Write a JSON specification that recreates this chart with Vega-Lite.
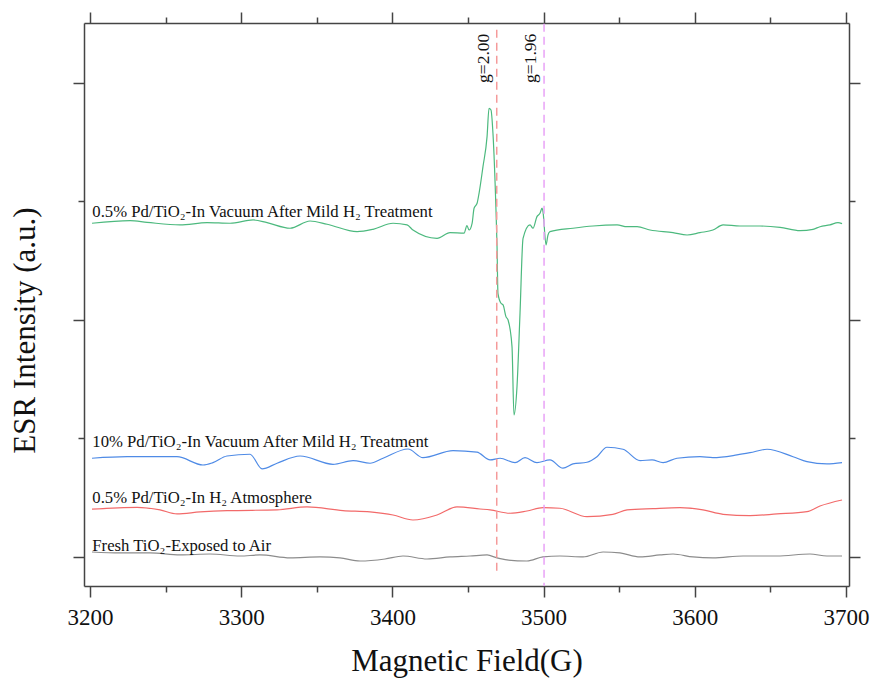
{
  "$schema": "https://vega.github.io/schema/vega-lite/v6.json",
  "autosize": "none",
  "width": 765,
  "height": 563,
  "padding": {"left": 84, "top": 23, "right": 23, "bottom": 93},
  "background": "white",
  "config": {
    "view": {"stroke": null},
    "font": "Liberation Serif",
    "axis": {
      "domainColor": "#444",
      "domainWidth": 1.5,
      "tickColor": "#444",
      "tickWidth": 1.5,
      "grid": false,
      "labelFont": "Liberation Serif",
      "titleFont": "Liberation Serif",
      "labelColor": "#111",
      "titleColor": "#111",
      "titleFontWeight": "normal"
    }
  },
  "datasets": {
    "spectra": [
      {"series": "fresh", "field": 3201.3, "esr": 0.042},
      {"series": "fresh", "field": 3219.8, "esr": 0.034},
      {"series": "fresh", "field": 3239.7, "esr": 0.034},
      {"series": "fresh", "field": 3259.5, "esr": 0.017},
      {"series": "fresh", "field": 3279.4, "esr": 0.025},
      {"series": "fresh", "field": 3299.2, "esr": 0.008},
      {"series": "fresh", "field": 3312.4, "esr": 0.017},
      {"series": "fresh", "field": 3332.3, "esr": -0.008},
      {"series": "fresh", "field": 3352.1, "esr": 0.0},
      {"series": "fresh", "field": 3365.3, "esr": -0.008},
      {"series": "fresh", "field": 3378.6, "esr": -0.034},
      {"series": "fresh", "field": 3395.1, "esr": -0.017},
      {"series": "fresh", "field": 3407.0, "esr": 0.008},
      {"series": "fresh", "field": 3422.9, "esr": -0.017},
      {"series": "fresh", "field": 3438.1, "esr": 0.0},
      {"series": "fresh", "field": 3451.3, "esr": 0.008},
      {"series": "fresh", "field": 3462.6, "esr": 0.017},
      {"series": "fresh", "field": 3469.2, "esr": -0.008},
      {"series": "fresh", "field": 3475.8, "esr": -0.025},
      {"series": "fresh", "field": 3489.0, "esr": -0.034},
      {"series": "fresh", "field": 3499.6, "esr": 0.0},
      {"series": "fresh", "field": 3510.8, "esr": 0.008},
      {"series": "fresh", "field": 3526.1, "esr": 0.0},
      {"series": "fresh", "field": 3539.3, "esr": 0.042},
      {"series": "fresh", "field": 3550.5, "esr": 0.034},
      {"series": "fresh", "field": 3563.8, "esr": 0.0},
      {"series": "fresh", "field": 3577.0, "esr": 0.017},
      {"series": "fresh", "field": 3585.6, "esr": 0.025},
      {"series": "fresh", "field": 3598.8, "esr": 0.0},
      {"series": "fresh", "field": 3612.0, "esr": -0.008},
      {"series": "fresh", "field": 3631.9, "esr": 0.008},
      {"series": "fresh", "field": 3654.4, "esr": 0.008},
      {"series": "fresh", "field": 3676.2, "esr": 0.025},
      {"series": "fresh", "field": 3687.4, "esr": 0.008},
      {"series": "fresh", "field": 3697.4, "esr": 0.008},

      {"series": "h2", "field": 3201.3, "esr": 0.403},
      {"series": "h2", "field": 3231.1, "esr": 0.419},
      {"series": "h2", "field": 3246.3, "esr": 0.397},
      {"series": "h2", "field": 3257.5, "esr": 0.363},
      {"series": "h2", "field": 3272.8, "esr": 0.38},
      {"series": "h2", "field": 3290.6, "esr": 0.391},
      {"series": "h2", "field": 3323.7, "esr": 0.397},
      {"series": "h2", "field": 3343.5, "esr": 0.422},
      {"series": "h2", "field": 3367.3, "esr": 0.391},
      {"series": "h2", "field": 3385.2, "esr": 0.38},
      {"series": "h2", "field": 3400.4, "esr": 0.354},
      {"series": "h2", "field": 3413.6, "esr": 0.312},
      {"series": "h2", "field": 3429.5, "esr": 0.354},
      {"series": "h2", "field": 3442.7, "esr": 0.422},
      {"series": "h2", "field": 3457.9, "esr": 0.405},
      {"series": "h2", "field": 3464.6, "esr": 0.397},
      {"series": "h2", "field": 3477.8, "esr": 0.369},
      {"series": "h2", "field": 3489.0, "esr": 0.388},
      {"series": "h2", "field": 3499.6, "esr": 0.416},
      {"series": "h2", "field": 3510.8, "esr": 0.411},
      {"series": "h2", "field": 3528.7, "esr": 0.34},
      {"series": "h2", "field": 3545.8, "esr": 0.36},
      {"series": "h2", "field": 3555.2, "esr": 0.397},
      {"series": "h2", "field": 3572.4, "esr": 0.408},
      {"series": "h2", "field": 3590.2, "esr": 0.416},
      {"series": "h2", "field": 3605.4, "esr": 0.397},
      {"series": "h2", "field": 3618.7, "esr": 0.36},
      {"series": "h2", "field": 3636.5, "esr": 0.349},
      {"series": "h2", "field": 3654.4, "esr": 0.363},
      {"series": "h2", "field": 3674.2, "esr": 0.382},
      {"series": "h2", "field": 3682.8, "esr": 0.43},
      {"series": "h2", "field": 3697.4, "esr": 0.481},

      {"series": "pd10", "field": 3201.3, "esr": 0.833},
      {"series": "pd10", "field": 3224.5, "esr": 0.846},
      {"series": "pd10", "field": 3257.5, "esr": 0.846},
      {"series": "pd10", "field": 3274.7, "esr": 0.776},
      {"series": "pd10", "field": 3281.3, "esr": 0.796},
      {"series": "pd10", "field": 3290.6, "esr": 0.852},
      {"series": "pd10", "field": 3305.8, "esr": 0.867},
      {"series": "pd10", "field": 3313.8, "esr": 0.743},
      {"series": "pd10", "field": 3323.7, "esr": 0.791},
      {"series": "pd10", "field": 3338.9, "esr": 0.852},
      {"series": "pd10", "field": 3360.7, "esr": 0.782},
      {"series": "pd10", "field": 3374.0, "esr": 0.813},
      {"series": "pd10", "field": 3385.2, "esr": 0.791},
      {"series": "pd10", "field": 3393.8, "esr": 0.833},
      {"series": "pd10", "field": 3410.3, "esr": 0.911},
      {"series": "pd10", "field": 3420.2, "esr": 0.838},
      {"series": "pd10", "field": 3440.1, "esr": 0.897},
      {"series": "pd10", "field": 3455.9, "esr": 0.884},
      {"series": "pd10", "field": 3464.6, "esr": 0.819},
      {"series": "pd10", "field": 3471.2, "esr": 0.833},
      {"series": "pd10", "field": 3481.1, "esr": 0.796},
      {"series": "pd10", "field": 3487.7, "esr": 0.838},
      {"series": "pd10", "field": 3495.6, "esr": 0.796},
      {"series": "pd10", "field": 3504.2, "esr": 0.819},
      {"series": "pd10", "field": 3512.8, "esr": 0.749},
      {"series": "pd10", "field": 3519.4, "esr": 0.785},
      {"series": "pd10", "field": 3528.7, "esr": 0.799},
      {"series": "pd10", "field": 3535.3, "esr": 0.846},
      {"series": "pd10", "field": 3541.9, "esr": 0.926},
      {"series": "pd10", "field": 3552.5, "esr": 0.909},
      {"series": "pd10", "field": 3563.8, "esr": 0.813},
      {"series": "pd10", "field": 3571.7, "esr": 0.819},
      {"series": "pd10", "field": 3579.0, "esr": 0.796},
      {"series": "pd10", "field": 3588.2, "esr": 0.833},
      {"series": "pd10", "field": 3603.4, "esr": 0.846},
      {"series": "pd10", "field": 3612.0, "esr": 0.838},
      {"series": "pd10", "field": 3627.9, "esr": 0.861},
      {"series": "pd10", "field": 3636.5, "esr": 0.88},
      {"series": "pd10", "field": 3647.8, "esr": 0.909},
      {"series": "pd10", "field": 3665.0, "esr": 0.846},
      {"series": "pd10", "field": 3674.2, "esr": 0.804},
      {"series": "pd10", "field": 3687.4, "esr": 0.785},
      {"series": "pd10", "field": 3697.4, "esr": 0.796},

      {"series": "pd05", "field": 3201.3, "esr": 2.816},
      {"series": "pd05", "field": 3226.5, "esr": 2.838},
      {"series": "pd05", "field": 3237.7, "esr": 2.824},
      {"series": "pd05", "field": 3259.5, "esr": 2.802},
      {"series": "pd05", "field": 3277.4, "esr": 2.821},
      {"series": "pd05", "field": 3292.6, "esr": 2.816},
      {"series": "pd05", "field": 3307.8, "esr": 2.844},
      {"series": "pd05", "field": 3317.1, "esr": 2.821},
      {"series": "pd05", "field": 3332.3, "esr": 2.774},
      {"series": "pd05", "field": 3345.5, "esr": 2.835},
      {"series": "pd05", "field": 3356.8, "esr": 2.808},
      {"series": "pd05", "field": 3376.6, "esr": 2.745},
      {"series": "pd05", "field": 3387.2, "esr": 2.765},
      {"series": "pd05", "field": 3400.4, "esr": 2.816},
      {"series": "pd05", "field": 3409.7, "esr": 2.802},
      {"series": "pd05", "field": 3413.6, "esr": 2.759},
      {"series": "pd05", "field": 3429.5, "esr": 2.689},
      {"series": "pd05", "field": 3438.1, "esr": 2.737},
      {"series": "pd05", "field": 3447.4, "esr": 2.732},
      {"series": "pd05", "field": 3449.3, "esr": 2.796},
      {"series": "pd05", "field": 3450.7, "esr": 2.759},
      {"series": "pd05", "field": 3452.7, "esr": 2.816},
      {"series": "pd05", "field": 3454.0, "esr": 2.943},
      {"series": "pd05", "field": 3456.0, "esr": 2.985},
      {"series": "pd05", "field": 3457.3, "esr": 3.069},
      {"series": "pd05", "field": 3459.9, "esr": 3.294},
      {"series": "pd05", "field": 3462.6, "esr": 3.547},
      {"series": "pd05", "field": 3463.9, "esr": 3.786},
      {"series": "pd05", "field": 3465.2, "esr": 3.772},
      {"series": "pd05", "field": 3466.5, "esr": 3.575},
      {"series": "pd05", "field": 3468.5, "esr": 2.928},
      {"series": "pd05", "field": 3469.2, "esr": 2.619},
      {"series": "pd05", "field": 3469.8, "esr": 2.225},
      {"series": "pd05", "field": 3471.8, "esr": 2.141},
      {"series": "pd05", "field": 3473.2, "esr": 2.127},
      {"series": "pd05", "field": 3475.1, "esr": 2.028},
      {"series": "pd05", "field": 3476.5, "esr": 2.0},
      {"series": "pd05", "field": 3479.1, "esr": 1.775},
      {"series": "pd05", "field": 3480.4, "esr": 1.198},
      {"series": "pd05", "field": 3482.4, "esr": 1.437},
      {"series": "pd05", "field": 3484.4, "esr": 2.057},
      {"series": "pd05", "field": 3486.4, "esr": 2.689},
      {"series": "pd05", "field": 3491.0, "esr": 2.802},
      {"series": "pd05", "field": 3493.0, "esr": 2.774},
      {"series": "pd05", "field": 3495.6, "esr": 2.872},
      {"series": "pd05", "field": 3497.6, "esr": 2.9},
      {"series": "pd05", "field": 3499.0, "esr": 2.943},
      {"series": "pd05", "field": 3499.6, "esr": 2.914},
      {"series": "pd05", "field": 3501.6, "esr": 2.633},
      {"series": "pd05", "field": 3502.9, "esr": 2.717},
      {"series": "pd05", "field": 3504.2, "esr": 2.745},
      {"series": "pd05", "field": 3519.4, "esr": 2.774},
      {"series": "pd05", "field": 3532.7, "esr": 2.793},
      {"series": "pd05", "field": 3548.6, "esr": 2.802},
      {"series": "pd05", "field": 3555.2, "esr": 2.787},
      {"series": "pd05", "field": 3561.8, "esr": 2.787},
      {"series": "pd05", "field": 3570.4, "esr": 2.759},
      {"series": "pd05", "field": 3585.6, "esr": 2.737},
      {"series": "pd05", "field": 3594.9, "esr": 2.717},
      {"series": "pd05", "field": 3603.4, "esr": 2.737},
      {"series": "pd05", "field": 3612.0, "esr": 2.759},
      {"series": "pd05", "field": 3618.7, "esr": 2.802},
      {"series": "pd05", "field": 3629.9, "esr": 2.793},
      {"series": "pd05", "field": 3643.1, "esr": 2.793},
      {"series": "pd05", "field": 3656.4, "esr": 2.782},
      {"series": "pd05", "field": 3669.6, "esr": 2.754},
      {"series": "pd05", "field": 3678.2, "esr": 2.765},
      {"series": "pd05", "field": 3682.8, "esr": 2.787},
      {"series": "pd05", "field": 3689.4, "esr": 2.802},
      {"series": "pd05", "field": 3694.7, "esr": 2.821},
      {"series": "pd05", "field": 3697.4, "esr": 2.813}
    ],
    "gmarks": [
      {"g": "g=2.00", "field": 3469, "top": 4.45, "bottom": -0.14, "labelY": 4.0},
      {"g": "g=1.96", "field": 3500.3, "top": 4.5, "bottom": -0.245, "labelY": 4.0}
    ],
    "names": [
      {"name": "0.5% Pd/TiO₂-In Vacuum After Mild H₂ Treatment", "field": 3201.5, "esr": 2.872},
      {"name": "10% Pd/TiO₂-In Vacuum After Mild H₂ Treatment", "field": 3201.5, "esr": 0.926},
      {"name": "0.5% Pd/TiO₂-In H₂ Atmosphere", "field": 3201.5, "esr": 0.456},
      {"name": "Fresh TiO₂-Exposed to Air", "field": 3201.5, "esr": 0.053}
    ]
  },
  "resolve": {
    "axis": {"x": "independent", "y": "independent"},
    "scale": {"color": "independent"}
  },
  "layer": [
    {
      "data": {"name": "spectra"},
      "mark": {"type": "line", "strokeWidth": 1.2, "interpolate": "monotone"},
      "encoding": {
        "x": {
          "field": "field", "type": "quantitative",
          "scale": {"domain": [3196, 3702], "nice": false, "zero": false},
          "axis": {
            "orient": "bottom",
            "title": "Magnetic Field(G)",
            "titleFontSize": 31,
            "titlePadding": 17,
            "values": [3200, 3250, 3300, 3350, 3400, 3450, 3500, 3550, 3600, 3650, 3700],
            "format": "d",
            "labelExpr": "datum.value % 100 === 0 ? datum.label : ''",
            "labelFontSize": 23,
            "labelPadding": 9,
            "tickSize": {"condition": {"test": "datum.value % 100 === 0", "value": 11}, "value": 6}
          }
        },
        "y": {
          "field": "esr", "type": "quantitative",
          "scale": {"domain": [-0.245, 4.506], "nice": false, "zero": false},
          "axis": {
            "orient": "left",
            "title": "ESR Intensity (a.u.)",
            "titleFontSize": 31,
            "titlePadding": 31,
            "titleY": 307,
            "values": [0, 1, 2, 3, 4],
            "labels": false,
            "tickSize": {"condition": {"test": "datum.value % 2 === 0", "value": 11}, "value": 6}
          }
        },
        "color": {
          "field": "series", "type": "nominal",
          "scale": {"domain": ["fresh", "h2", "pd10", "pd05"], "range": ["#8c8c8c", "#f26a6a", "#4f8be6", "#4cb97e"]},
          "legend": null
        }
      }
    },
    {
      "data": {"name": "gmarks"},
      "mark": {"type": "rule", "strokeWidth": 1.5, "strokeDash": [8, 5]},
      "encoding": {
        "x": {
          "field": "field", "type": "quantitative",
          "axis": {
            "orient": "top",
            "title": null,
            "labels": false,
            "values": [3200, 3250, 3300, 3350, 3400, 3450, 3500, 3550, 3600, 3650, 3700],
            "tickSize": {"condition": {"test": "datum.value % 100 === 0", "value": 11}, "value": 6}
          }
        },
        "y": {
          "field": "top", "type": "quantitative",
          "axis": {
            "orient": "right",
            "title": null,
            "labels": false,
            "values": [0, 1, 2, 3, 4],
            "tickSize": {"condition": {"test": "datum.value % 2 === 0", "value": 11}, "value": 6}
          }
        },
        "y2": {"field": "bottom"},
        "color": {
          "field": "g", "type": "nominal",
          "scale": {"domain": ["g=2.00", "g=1.96"], "range": ["#f59a9a", "#e9a3f7"]},
          "legend": null
        }
      }
    },
    {
      "data": {"name": "gmarks"},
      "mark": {"type": "text", "angle": 270, "align": "left", "baseline": "alphabetic", "dy": -8, "fontSize": 17.5, "font": "Liberation Serif", "color": "#111"},
      "encoding": {
        "x": {"field": "field", "type": "quantitative", "axis": null},
        "y": {"field": "labelY", "type": "quantitative", "axis": null},
        "text": {"field": "g"}
      }
    },
    {
      "data": {"name": "names"},
      "mark": {"type": "text", "align": "left", "baseline": "alphabetic", "fontSize": 16.7, "font": "Liberation Serif", "color": "#111"},
      "encoding": {
        "x": {"field": "field", "type": "quantitative", "axis": null},
        "y": {"field": "esr", "type": "quantitative", "axis": null},
        "text": {"field": "name"}
      }
    }
  ]
}
